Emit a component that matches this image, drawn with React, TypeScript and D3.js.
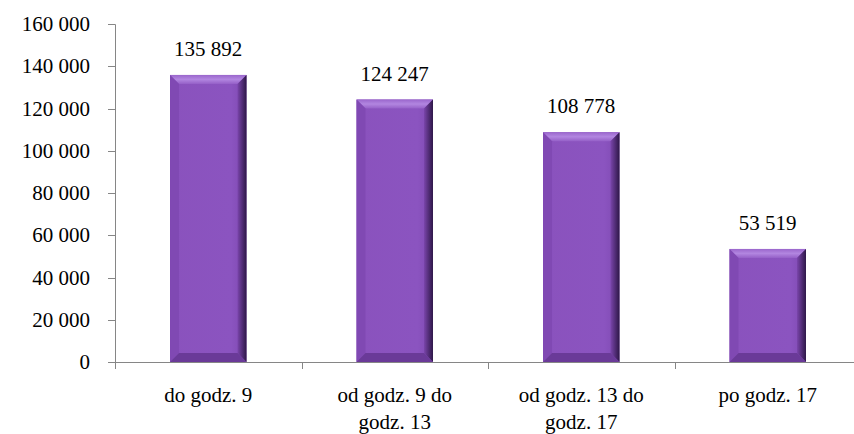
import React from "react";
import * as d3 from "d3";

const categories = [
  ["do godz. 9"],
  ["od godz. 9 do", "godz. 13"],
  ["od godz. 13 do", "godz. 17"],
  ["po godz. 17"],
];
const values = [135892, 124247, 108778, 53519];
const yTicks = [0, 20000, 40000, 60000, 80000, 100000, 120000, 140000, 160000];

const fmt = (v: number) => d3.format(",")(v).replace(/,/g, " ");

const W = 854;
const H = 434;
const margin = { top: 24, right: 0, bottom: 72, left: 115 };
const height = H - margin.top - margin.bottom;
const step = 186.5;
const axisColor = "#868686";
const bevel = 9;
const txt = { fontFamily: "Liberation Serif", fontSize: "21px" };

const App = () => {
  const x = d3
    .scaleBand<number>()
    .domain(d3.range(values.length))
    .range([0, 4 * step])
    .paddingInner(0.59)
    .paddingOuter(0.295);
  const y = d3.scaleLinear().domain([0, 160000]).range([height, 0]);
  const bw = x.bandwidth();

  return (
    <svg width={W} height={H} style={{ position: "absolute", left: 0, top: 0, fontFamily: "Liberation Serif" }}>
      <defs>
        <linearGradient id="bevR" x1="0" x2="1" y1="0" y2="0">
          <stop offset="0%" stopColor="#7a45ab" />
          <stop offset="100%" stopColor="#2e1748" />
        </linearGradient>
        <linearGradient id="bevT" x1="0" x2="0" y1="0" y2="1">
          <stop offset="0%" stopColor="#9a66cc" />
          <stop offset="50%" stopColor="#b286e0" />
          <stop offset="100%" stopColor="#9560c8" />
        </linearGradient>
        <linearGradient id="bevM" x1="0" x2="1" y1="0" y2="0">
          <stop offset="0%" stopColor="#8a52bd" />
          <stop offset="80%" stopColor="#8b54c0" />
          <stop offset="100%" stopColor="#7d48b0" />
        </linearGradient>
      </defs>
      <g transform={`translate(${margin.left},${margin.top})`}>
        {/* y axis */}
        <path d={`M-7,0.5H0.5V${height}`} stroke={axisColor} fill="none" />
        {yTicks.map((t) => (
          <g key={t} transform={`translate(0,${Math.round(y(t)) + 0.5})`}>
            <line x1={-7} x2={0} stroke={axisColor} />
            <text x={-25} dy="0.32em" textAnchor="end" fill="#000" style={txt}>
              {fmt(t)}
            </text>
          </g>
        ))}

        {/* bars */}
        {values.map((v, i) => {
          const h = height - y(v);
          return (
            <g key={i} transform={`translate(${x(i)},${y(v)})`}>
              <rect width={bw} height={h} fill="url(#bevM)" />
              <path d={`M0,0H${bw}L${bw - bevel},${bevel}H${bevel}Z`} fill="url(#bevT)" />
              <path d={`M${bw},0V${h}L${bw - bevel},${h - bevel}V${bevel}Z`} fill="url(#bevR)" />
              <path d={`M0,0L${bevel},${bevel}V${h - bevel}L0,${h}Z`} fill="#8049b3" />
              <path d={`M0,${h}H${bw}L${bw - bevel},${h - bevel}H${bevel}Z`} fill="#6a3a98" />
              <text x={bw / 2} y={-19} textAnchor="middle" fill="#000" style={txt}>
                {fmt(v)}
              </text>
            </g>
          );
        })}

        {/* x axis */}
        <g transform={`translate(0,${height})`}>
          <line x1={-7} x2={W - margin.left} y1={0.5} y2={0.5} stroke={axisColor} />
          {d3.range(values.length + 1).map((i) => (
            <line key={i} x1={Math.round(i * step) + 0.5} x2={Math.round(i * step) + 0.5} y1={0} y2={7} stroke={axisColor} />
          ))}
          {categories.map((lines, i) => (
            <text key={i} textAnchor="middle" fill="#000" style={txt} transform={`translate(${(x(i) as number) + bw / 2},0)`}>
              {lines.map((l, j) => (
                <tspan key={j} x={0} y={40 + j * 27}>
                  {l}
                </tspan>
              ))}
            </text>
          ))}
        </g>
      </g>
    </svg>
  );
};

export default App;
